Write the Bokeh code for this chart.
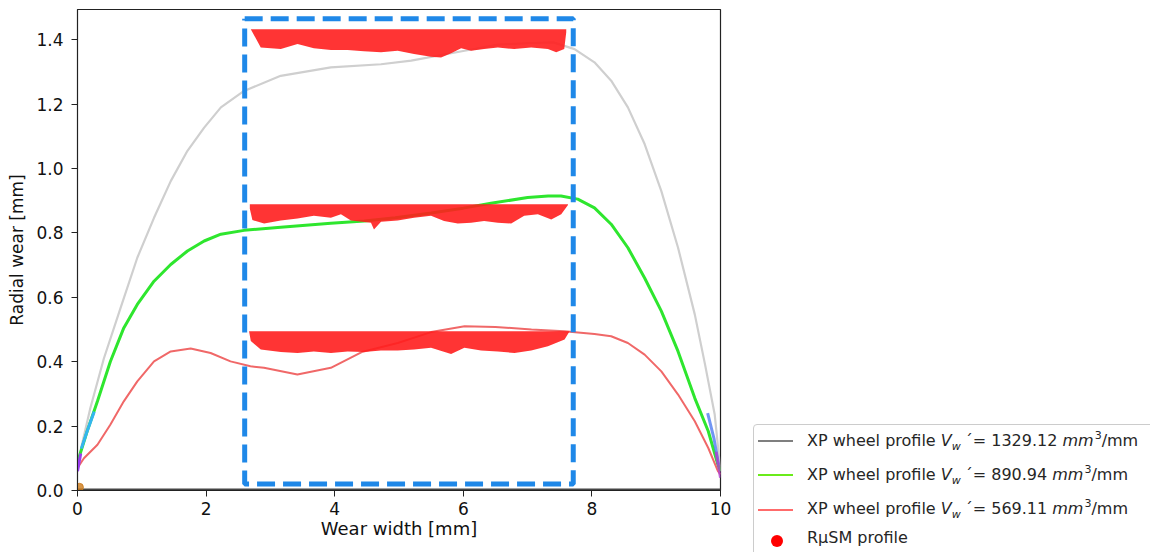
from bokeh.plotting import figure
from bokeh.layouts import row
from bokeh.models import Range1d, FixedTicker, PrintfTickFormatter, Div
from bokeh.embed import file_html
from bokeh.resources import INLINE

# ---------------- data ----------------
gray_x = [0.0, 0.02, 0.2, 0.41, 0.67, 0.93, 1.19, 1.45, 1.71, 1.97, 2.23, 2.59, 3.16, 3.94, 4.72,
          5.19, 6.02, 6.54, 7.06, 7.4, 7.73, 8.04, 8.30, 8.56, 8.82, 9.08, 9.34, 9.60, 9.76, 9.91, 10.0]
gray_y = [0.06, 0.10, 0.256, 0.41, 0.567, 0.723, 0.847, 0.961, 1.055, 1.127, 1.19, 1.241, 1.288, 1.314, 1.324,
          1.335, 1.366, 1.385, 1.39, 1.392, 1.371, 1.33, 1.273, 1.19, 1.076, 0.93, 0.754, 0.547, 0.391, 0.236, 0.06]

green_x = [0.0, 0.02, 0.15, 0.31, 0.51, 0.72, 0.93, 1.19, 1.45, 1.71, 1.97, 2.23, 2.59, 3.16, 3.94, 4.46,
           4.94, 5.5, 6.0, 6.43, 7.0, 7.32, 7.52, 7.78, 8.04, 8.30, 8.56, 8.82, 9.08, 9.34, 9.60, 9.81, 9.96, 10.0]
green_y = [0.09, 0.10, 0.184, 0.277, 0.40, 0.505, 0.578, 0.65, 0.702, 0.744, 0.775, 0.796, 0.808, 0.818, 0.830, 0.837,
           0.847, 0.862, 0.877, 0.892, 0.910, 0.915, 0.915, 0.905, 0.878, 0.827, 0.754, 0.66, 0.557, 0.432, 0.287, 0.184, 0.08, 0.06]

red_x = [0.0, 0.1, 0.31, 0.51, 0.72, 0.93, 1.19, 1.45, 1.76, 2.07, 2.38, 2.69, 2.9, 3.42, 3.94, 4.42,
         4.98, 5.5, 6.02, 6.5, 7.06, 7.57, 8.04, 8.30, 8.56, 8.82, 9.08, 9.34, 9.60, 9.81, 9.96, 10.0]
red_y = [0.07, 0.10, 0.142, 0.204, 0.277, 0.339, 0.401, 0.432, 0.441, 0.427, 0.401, 0.386, 0.381, 0.36, 0.381, 0.43,
         0.458, 0.492, 0.51, 0.508, 0.50, 0.495, 0.486, 0.479, 0.458, 0.422, 0.37, 0.298, 0.215, 0.132, 0.06, 0.05]

# RuSM profiles (flat top, wavy bottom)
rusm1_x = [2.695, 2.85, 3.162, 3.422, 3.676, 3.941, 4.201, 4.455, 4.72, 4.98, 5.234, 5.498, 5.654, 5.81,
           5.966, 6.121, 6.324, 6.537, 6.791, 7.056, 7.316, 7.445, 7.57, 7.601]
rusm1_bot = [1.433, 1.376, 1.371, 1.387, 1.374, 1.368, 1.368, 1.364, 1.361, 1.366, 1.356, 1.347, 1.345, 1.358,
             1.374, 1.366, 1.371, 1.376, 1.371, 1.376, 1.371, 1.361, 1.371, 1.423]
rusm1_top = 1.433

rusm2_x = [2.68, 2.72, 2.902, 3.162, 3.422, 3.676, 3.941, 4.097, 4.252, 4.564, 4.611, 4.72, 4.98, 5.234, 5.498,
           5.701, 5.914, 6.121, 6.324, 6.537, 6.745, 6.947, 7.16, 7.368, 7.523, 7.628]
rusm2_bot = [0.875, 0.84, 0.829, 0.839, 0.845, 0.853, 0.847, 0.858, 0.839, 0.832, 0.811, 0.835, 0.839, 0.847, 0.853,
             0.837, 0.829, 0.832, 0.837, 0.832, 0.829, 0.853, 0.858, 0.842, 0.858, 0.887]
rusm2_top = 0.889

rusm3_x = [2.668, 2.695, 2.85, 3.162, 3.422, 3.676, 3.941, 4.201, 4.455, 4.72, 4.98, 5.234, 5.498, 5.81, 6.017,
           6.277, 6.537, 6.796, 7.056, 7.316, 7.575, 7.653]
rusm3_bot = [0.495, 0.464, 0.438, 0.43, 0.427, 0.432, 0.427, 0.432, 0.43, 0.435, 0.435, 0.438, 0.443, 0.424, 0.443,
             0.435, 0.432, 0.427, 0.435, 0.448, 0.469, 0.495]
rusm3_top = 0.495

# dashed analysis window
box_x = [2.60, 7.71, 7.71, 2.60, 2.60]
box_y = [1.465, 1.465, 0.02, 0.02, 1.465]

# base line and small colour artefacts at the profile edges
base_x = [0.0, 10.0]
base_y = [0.0, 0.0]
left_cyan_x = [0.06, 0.15, 0.26]
left_cyan_y = [0.13, 0.184, 0.245]
left_purple_x = [0.0, 0.05]
left_purple_y = [0.06, 0.115]
right_blue_x = [9.80, 9.90, 9.97]
right_blue_y = [0.24, 0.16, 0.08]
right_purple_x = [9.93, 10.0]
right_purple_y = [0.12, 0.04]

x_ticks = [0, 2, 4, 6, 8, 10]
y_ticks = [0.0, 0.2, 0.4, 0.6, 0.8, 1.0, 1.2, 1.4]

vw_values = ["1329.12", "890.94", "569.11"]
legend_prefix = "XP wheel profile "
rusm_label = "R\u03bcSM profile"

FONT = "DejaVu Sans"

# ---------------- main plot ----------------
p = figure(frame_width=643, frame_height=481, x_range=Range1d(0, 10), y_range=Range1d(0, 1.494),
           output_backend="svg", toolbar_location=None,
           min_border_left=77, min_border_right=20, min_border_top=9, min_border_bottom=62)
p.grid.visible = False
p.outline_line_color = "#222222"
p.outline_line_width = 1.2
p.xaxis.ticker = FixedTicker(ticks=x_ticks)
p.yaxis.ticker = FixedTicker(ticks=y_ticks)
p.yaxis.formatter = PrintfTickFormatter(format="%.1f")
for ax in (p.xaxis[0], p.yaxis[0]):
    ax.major_tick_in = 0
    ax.major_tick_out = 6
    ax.minor_tick_line_color = None
    ax.axis_line_color = "#222222"
    ax.major_tick_line_color = "#222222"
    ax.major_label_text_font = FONT
    ax.major_label_text_font_size = "17px"
    ax.major_label_text_color = "#111111"
    ax.axis_label_text_font = FONT
    ax.axis_label_text_font_style = "normal"
    ax.axis_label_text_color = "#111111"
p.xaxis.axis_label = "Wear width [mm]"
p.yaxis.axis_label = "Radial wear [mm]"
p.xaxis.axis_label_text_font_size = "18px"
p.yaxis.axis_label_text_font_size = "17px"
p.xaxis.major_label_standoff = 5
p.yaxis.major_label_standoff = 8
p.xaxis.axis_label_standoff = 0
p.yaxis.axis_label_standoff = 6

p.line(base_x, base_y, line_color="#444444", line_width=4)
p.line(gray_x, gray_y, line_color="#cfcfcf", line_width=2.2)
p.line(green_x, green_y, line_color="#2ee62e", line_width=3)
p.line(red_x, red_y, line_color="#f06868", line_width=2)
p.line(left_cyan_x, left_cyan_y, line_color="#33b5f0", line_width=3)
p.line(left_purple_x, left_purple_y, line_color="#9a3cf0", line_width=3)
p.line(right_blue_x, right_blue_y, line_color="#4d7af0", line_width=3, line_alpha=0.8)
p.line(right_purple_x, right_purple_y, line_color="#b040d0", line_width=3, line_alpha=0.8)
p.scatter([0.03], [0.01], size=8, color="#cc7a1a", alpha=0.8)

red_fill = "#ff1e1e"
p.varea(x=rusm1_x, y1=rusm1_bot, y2=[rusm1_top] * len(rusm1_x), fill_color=red_fill, fill_alpha=0.9)
p.varea(x=rusm2_x, y1=rusm2_bot, y2=[rusm2_top] * len(rusm2_x), fill_color=red_fill, fill_alpha=0.9)
p.varea(x=rusm3_x, y1=rusm3_bot, y2=[rusm3_top] * len(rusm3_x), fill_color=red_fill, fill_alpha=0.9)

p.line(box_x, box_y, line_color="#1f88e8", line_width=5, line_dash="18 8")

# ---------------- legend panel (HTML so that the mathtext labels keep sub/superscripts) ----------------
legend_line_colors = ["#7f7f7f", "#6aeb1a", "#ff6b6b"]
row_tops = [431, 465, 499]          # text line boxes (page pixels)
sample_tops = [440, 474, 509]       # legend sample lines
OFF = 740                            # page x where the panel starts

parts = ['<div style="position:relative;width:410px;height:552px;overflow:hidden;'
         'font-family:\'DejaVu Sans\';color:#262626;">',
         f'<div style="position:absolute;left:{753 - OFF}px;top:424px;width:600px;height:300px;'
         'box-sizing:border-box;border:1px solid #cccccc;border-radius:4px;background:#ffffff;"></div>']
for val, col, tt, st in zip(vw_values, legend_line_colors, row_tops, sample_tops):
    parts.append(f'<div style="position:absolute;left:{758 - OFF}px;top:{st}px;width:35px;height:0;'
                 f'border-top:2px solid {col};"></div>')
    parts.append(
        f'<div style="position:absolute;left:{807 - OFF}px;top:{tt}px;white-space:nowrap;'
        'font-size:16px;line-height:20px;">'
        f'{legend_prefix}<i>V</i><span style="position:relative;top:4px;font-size:11px;font-style:italic;'
        'margin-right:4px;">w</span>&#180;= ' + val +
        ' <i>mm</i><span style="position:relative;top:-7px;font-size:11px;margin-left:1px;">3</span>/mm</div>')
parts.append(f'<div style="position:absolute;left:{771 - OFF}px;top:535px;width:12px;height:12px;'
             'border-radius:50%;background:#ff0000;"></div>')
parts.append(f'<div style="position:absolute;left:{807 - OFF}px;top:528px;white-space:nowrap;'
             f'font-size:16px;line-height:20px;">{rusm_label}</div>')
parts.append('</div>')

legend_div = Div(text="".join(parts), width=410, height=552, margin=(0, 0, 0, 0))

layout = row(p, legend_div)
open("out.html", "w").write(file_html(layout, INLINE))
